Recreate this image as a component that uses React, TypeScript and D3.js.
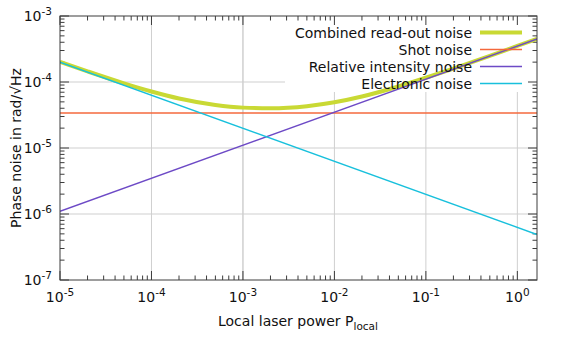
import React from "react";
import * as d3 from "d3";

// values (log-log plot)
const powerRange = [1e-5, 1.64];
const phaseRange = [1e-7, 1e-3];

const combinedPower = [1e-5, 2e-5, 5e-5, 1e-4, 2e-4, 5e-4, 1e-3, 2e-3, 5e-3, 1e-2, 2e-2, 5e-2, 1e-1, 2e-1, 5e-1, 1, 1.64];
const combinedNoise = [2.02e-4, 1.45e-4, 9.54e-5, 7.17e-5, 5.62e-5, 4.48e-5, 4.09e-5, 4.0e-5, 4.3e-5, 4.92e-5, 6.02e-5, 8.54e-5, 1.16e-4, 1.6e-4, 2.49e-4, 3.52e-4, 4.49e-4];

const linePower = [1e-5, 1.64];
const shotNoise = [3.4e-5, 3.4e-5];
const rinNoise = [1.1e-6, 4.48e-4];
const electronicNoise = [1.99e-4, 4.9e-7];

const xMajor = [1e-5, 1e-4, 1e-3, 1e-2, 1e-1, 1];
const xExponents = ["-5", "-4", "-3", "-2", "-1", "0"];
const yMajor = [1e-7, 1e-6, 1e-5, 1e-4, 1e-3];
const yExponents = ["-7", "-6", "-5", "-4", "-3"];

const seriesNames = ["Combined read-out noise", "Shot noise", "Relative intensity noise", "Electronic noise"];
const seriesColors = ["#c9d934", "#f4683c", "#6d4ac6", "#18c0dc"];
const seriesWidths = [4, 1.5, 1.5, 1.5];

const W = 561, H = 351;
const M = { left: 60, right: 24, top: 16, bottom: 71 };
const FONT = "DejaVu Sans, sans-serif";

export default function App() {
  const x = d3.scaleLog().domain(powerRange).range([M.left, W - M.right]);
  const y = d3.scaleLog().domain(phaseRange).range([H - M.bottom, M.top]);
  const [x0, x1] = x.range();
  const [y0, y1] = y.range(); // y0 bottom, y1 top

  const line = d3.line<[number, number]>().x(d => x(d[0])).y(d => y(d[1]));
  const smooth = d3.line<[number, number]>().x(d => x(d[0])).y(d => y(d[1])).curve(d3.curveMonotoneX);

  const series = [
    smooth(combinedPower.map((p, i) => [p, combinedNoise[i]])),
    line(linePower.map((p, i) => [p, shotNoise[i]])),
    line(linePower.map((p, i) => [p, rinNoise[i]])),
    line(linePower.map((p, i) => [p, electronicNoise[i]])),
  ];

  // minor ticks 2..9 in every decade
  const minors = (dom: number[]) => {
    const out: number[] = [];
    for (let e = Math.floor(Math.log10(dom[0])); e <= Math.ceil(Math.log10(dom[1])); e++)
      for (let k = 2; k <= 9; k++) {
        const v = k * Math.pow(10, e);
        if (v > dom[0] && v < dom[1]) out.push(v);
      }
    return out;
  };
  const xMinor = minors(powerRange);
  const yMinor = minors(phaseRange);

  const axisColor = "#3c3c3c";
  const gridColor = "#cfcfcf";
  const legendBox = { x: 285, y: y1, w: x1 - 285, h: 76 };
  const legendTextX = 472;
  const legendRow0 = 32.5;
  const legendDy = 17;

  return (
    <svg width={W} height={H} style={{ position: "absolute", left: 0, top: 0 }} fontFamily={FONT}>
      <rect width={W} height={H} fill="white" />
      <defs>
        <clipPath id="plot">
          <rect x={x0} y={y1} width={x1 - x0} height={y0 - y1} />
        </clipPath>
      </defs>

      {/* grid */}
      <g stroke={gridColor} strokeWidth={1}>
        {xMajor.slice(1).map(v => (
          <line key={v} x1={x(v)} x2={x(v)} y1={y0} y2={y1} />
        ))}
        {yMajor.slice(1, -1).map(v => (
          <line key={v} x1={x0} x2={x1} y1={y(v)} y2={y(v)} />
        ))}
      </g>
      {/* key area hides the grid */}
      <rect x={legendBox.x} y={legendBox.y} width={legendBox.w} height={legendBox.h} fill="white" />
      <line x1={x(1e-3)} x2={x(1e-3)} y1={y0} y2={y1} stroke={gridColor} />

      {/* ticks */}
      <g stroke={axisColor} strokeWidth={1}>
        {xMajor.map(v => (
          <g key={"xM" + v}>
            <line x1={x(v)} x2={x(v)} y1={y0} y2={y0 - 9} />
            <line x1={x(v)} x2={x(v)} y1={y1} y2={y1 + 9} />
          </g>
        ))}
        {xMinor.map(v => (
          <g key={"xm" + v}>
            <line x1={x(v)} x2={x(v)} y1={y0} y2={y0 - 4.5} />
            <line x1={x(v)} x2={x(v)} y1={y1} y2={y1 + 4.5} />
          </g>
        ))}
        {yMajor.map(v => (
          <g key={"yM" + v}>
            <line x1={x0} x2={x0 + 9} y1={y(v)} y2={y(v)} />
            <line x1={x1} x2={x1 - 9} y1={y(v)} y2={y(v)} />
          </g>
        ))}
        {yMinor.map(v => (
          <g key={"ym" + v}>
            <line x1={x0} x2={x0 + 4.5} y1={y(v)} y2={y(v)} />
            <line x1={x1} x2={x1 - 4.5} y1={y(v)} y2={y(v)} />
          </g>
        ))}
      </g>

      {/* curves */}
      <g clipPath="url(#plot)" fill="none" strokeLinejoin="round">
        {series.map((d, i) => (
          <path key={i} d={d ?? ""} stroke={seriesColors[i]} strokeWidth={seriesWidths[i]} />
        ))}
      </g>

      <rect x={x0} y={y1} width={x1 - x0} height={y0 - y1} fill="none" stroke={axisColor} strokeWidth={1} />

      {/* tick labels */}
      <g fontSize={14} fill="#111">
        {xMajor.map((v, i) => (
          <text key={v} x={x(v)} y={y0 + 22} textAnchor="middle">
            10<tspan fontSize={10.5} dy={-6}>{xExponents[i]}</tspan>
          </text>
        ))}
        {yMajor.map((v, i) => (
          <text key={v} x={x0 - 8} y={y(v) + 5} textAnchor="end">
            10<tspan fontSize={10.5} dy={-6}>{yExponents[i]}</tspan>
          </text>
        ))}
      </g>

      {/* axis titles */}
      <text x={218} y={326} fontSize={14} fill="#111">
        Local laser power P<tspan fontSize={10.5} dy={4}>local</tspan>
      </text>
      <text transform={`translate(21,148) rotate(-90)`} textAnchor="middle" fontSize={14} fill="#111">
        Phase noise in rad/√Hz
      </text>

      {/* legend */}
      <g fontSize={14} fill="#111">
        {seriesNames.map((n, i) => (
          <g key={n}>
            <text x={legendTextX} y={legendRow0 + i * legendDy + 5} textAnchor="end">{n}</text>
            <line x1={480} x2={522} y1={legendRow0 + i * legendDy} y2={legendRow0 + i * legendDy}
              stroke={seriesColors[i]} strokeWidth={seriesWidths[i]} />
          </g>
        ))}
      </g>
    </svg>
  );
}
